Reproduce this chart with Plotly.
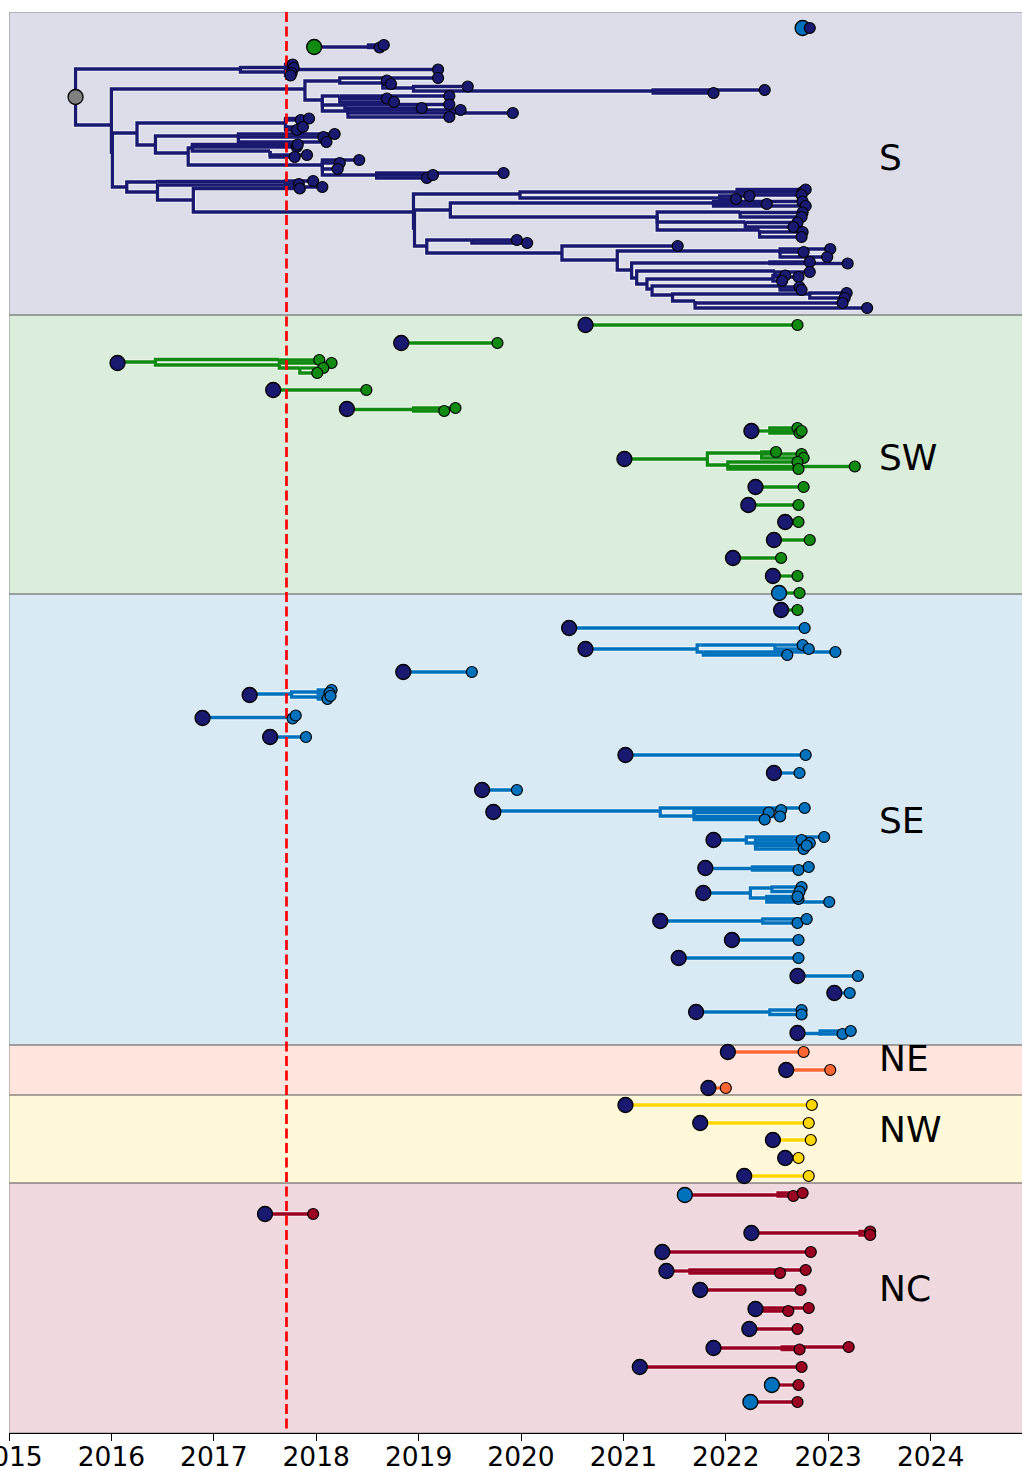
import plotly.graph_objects as go

# ---------------- data ----------------
region_names = ["S", "SW", "SE", "NE", "NW", "NC"]
region_colors = {"S": "#191970", "SW": "#118a11", "SE": "#0072bd",
                 "NE": "#ff6633", "NW": "#ffd700", "NC": "#990022",
                 "root": "#808080"}
band_fill = {"S": "rgba(25,25,112,0.15)", "SW": "rgba(0,128,0,0.14)",
             "SE": "rgba(0,114,189,0.15)", "NE": "rgba(255,102,51,0.17)",
             "NW": "rgba(255,215,0,0.15)", "NC": "rgba(153,0,34,0.15)"}
band_edges = [12, 315, 594, 1045, 1095, 1183, 1433]   # tree row positions
label_rows = [157, 457, 820, 1058, 1129, 1288]
label_date = 2023.48
cutoff_date = 2017.71
year_ticks = list(range(2015, 2025))

# (name, parent, date, row, region)
S_tree = [
    ("R", None, 2015.65, 97, "root"),
    ("A", "R", 2017.26, 69, "S"),
    ("A1", "A", 2017.70, 67.5, "S"),
    ("s1", "A1", 2017.77, 64.5, "S"), ("s2", "A1", 2017.78, 68, "S"), ("s3", "A1", 2019.19, 69.5, "S"),
    ("A2", "A", 2017.70, 72, "S"),
    ("s4", "A2", 2017.76, 73, "S"), ("s5", "A2", 2017.75, 75.5, "S"),
    ("C1", "R", 2016.00, 125, "S"),
    ("D", "C1", 2017.89, 89, "S"),
    ("D1", "D", 2018.23, 81, "S"),
    ("s6", "D1", 2019.19, 78, "S"),
    ("D11", "D1", 2018.65, 83, "S"),
    ("s7", "D11", 2018.69, 80.5, "S"), ("s8", "D11", 2018.73, 84, "S"),
    ("D111", "D11", 2018.95, 88, "S"),
    ("s9", "D111", 2019.48, 86.5, "S"),
    ("D112", "D111", 2021.29, 91, "S"),
    ("s10", "D112", 2021.88, 93, "S"), ("s11", "D112", 2022.38, 90, "S"),
    ("D2", "D", 2018.06, 100, "S"),
    ("D21", "D2", 2018.23, 96, "S"),
    ("s12", "D21", 2018.69, 98.5, "S"), ("s13", "D21", 2018.76, 102, "S"), ("s14", "D21", 2019.30, 96, "S"),
    ("D22", "D2", 2018.28, 105, "S"),
    ("s15", "D22", 2019.30, 104.5, "S"), ("s16", "D22", 2019.03, 108, "S"),
    ("D23", "D2", 2018.31, 111, "S"),
    ("s17", "D23", 2019.30, 117, "S"), ("s18", "D23", 2019.41, 110, "S"), ("s19", "D23", 2019.92, 113, "S"),
    ("C2", "C1", 2016.01, 152, "S"),
    ("H", "C2", 2016.25, 133, "S"),
    ("H1", "H", 2017.70, 123, "S"),
    ("s20", "H1", 2017.85, 120, "S"), ("s21", "H1", 2017.93, 118.5, "S"),
    ("s22", "H1", 2017.81, 130, "S"), ("s23", "H1", 2017.87, 127, "S"),
    ("H2", "H", 2016.43, 145, "S"),
    ("H21", "H2", 2017.24, 136, "S"),
    ("s24", "H21", 2018.07, 137, "S"), ("s25", "H21", 2018.18, 134, "S"), ("s26", "H21", 2018.10, 142, "S"),
    ("H22", "H2", 2016.75, 153, "S"),
    ("H221", "H22", 2016.79, 148, "S"),
    ("s27", "H221", 2017.81, 147, "S"), ("s28", "H221", 2017.82, 144.5, "S"),
    ("H2211", "H221", 2017.55, 151, "S"),
    ("s29", "H2211", 2017.79, 157, "S"), ("s30", "H2211", 2017.91, 155, "S"),
    ("H222", "H22", 2018.06, 165, "S"),
    ("s31", "H222", 2018.23, 163, "S"), ("s32", "H222", 2018.42, 160, "S"), ("s33", "H222", 2018.21, 169, "S"),
    ("H2221", "H222", 2018.59, 175, "S"),
    ("s34", "H2221", 2019.08, 178, "S"), ("s35", "H2221", 2019.14, 175, "S"), ("s36", "H2221", 2019.83, 173, "S"),
    ("I", "C2", 2016.15, 187, "S"),
    ("J", "I", 2016.45, 182, "S"),
    ("J1", "J", 2017.70, 181.5, "S"),
    ("s37", "J1", 2017.83, 184, "S"), ("s38", "J1", 2017.97, 181, "S"),
    ("K", "I", 2016.45, 192, "S"),
    ("K1", "K", 2017.70, 185, "S"),
    ("s39", "K1", 2018.06, 187, "S"),
    ("N", "K", 2016.80, 200, "S"),
    ("s40", "N", 2017.84, 188.5, "S"),
    ("O", "N", 2018.95, 212, "S"),
    ("U", "O", 2019.99, 194, "S"),
    ("U1", "U", 2022.11, 192, "S"),
    ("s41", "U1", 2022.75, 192, "S"), ("s42", "U1", 2022.78, 189.5, "S"), ("s43", "U1", 2022.74, 195, "S"),
    ("U2", "U", 2021.94, 198, "S"),
    ("s44", "U2", 2022.10, 199, "S"), ("s45", "U2", 2022.23, 196, "S"),
    ("O2", "O", 2018.96, 228, "S"),
    ("V", "O2", 2019.31, 210, "S"),
    ("V1", "V", 2021.88, 203, "S"),
    ("s46", "V1", 2022.40, 204, "S"), ("s47", "V1", 2022.75, 201.5, "S"), ("s48", "V1", 2022.78, 206, "S"),
    ("V2", "V", 2021.33, 217, "S"),
    ("V21", "V2", 2022.14, 212, "S"),
    ("s49", "V21", 2022.75, 212.5, "S"), ("s50", "V21", 2022.74, 217, "S"),
    ("V22", "V2", 2022.19, 222, "S"),
    ("s51", "V22", 2022.70, 222.5, "S"), ("s52", "V22", 2022.66, 227, "S"),
    ("V23", "V2", 2022.33, 230, "S"),
    ("s53", "V23", 2022.75, 232, "S"), ("s54", "V23", 2022.74, 237, "S"),
    ("W", "O2", 2019.08, 246, "S"),
    ("W1", "W", 2019.52, 240, "S"),
    ("s55", "W1", 2019.96, 240, "S"), ("s56", "W1", 2020.06, 243, "S"),
    ("X", "W", 2020.40, 253, "S"),
    ("s57", "X", 2021.53, 246, "S"),
    ("Y", "X", 2020.94, 260, "S"),
    ("Y1", "Y", 2022.53, 251, "S"),
    ("s58", "Y1", 2022.76, 252, "S"), ("s59", "Y1", 2023.02, 249, "S"), ("s60", "Y1", 2022.99, 257, "S"),
    ("Z", "Y", 2021.08, 270, "S"),
    ("Za", "Z", 2022.43, 263, "S"),
    ("s61", "Za", 2022.82, 262, "S"), ("s62", "Za", 2023.19, 263.5, "S"),
    ("Z1", "Z", 2021.13, 278, "S"),
    ("Z1a", "Z1", 2022.48, 271, "S"),
    ("s63", "Z1a", 2022.82, 272, "S"), ("s64", "Z1a", 2022.71, 277, "S"),
    ("Z2", "Z1", 2021.23, 284, "S"),
    ("Z2a", "Z2", 2022.46, 279, "S"),
    ("s65", "Z2a", 2022.58, 275.5, "S"), ("s66", "Z2a", 2022.55, 281, "S"),
    ("Z3", "Z2", 2021.28, 289, "S"),
    ("Z3a", "Z3", 2022.53, 286, "S"),
    ("s67", "Z3a", 2022.72, 287, "S"), ("s68", "Z3a", 2022.74, 290, "S"),
    ("Z4", "Z3", 2021.48, 295, "S"),
    ("Z4a", "Z4", 2022.82, 294, "S"),
    ("s69", "Z4a", 2023.18, 293, "S"), ("s70", "Z4a", 2023.16, 298, "S"),
    ("Z5", "Z4", 2021.70, 301, "S"),
    ("s71", "Z5", 2023.14, 303, "S"), ("s72", "Z5", 2023.38, 308, "S"),
]

S_intros = [
    ("G0", None, 2017.98, 47, "SW"),
    ("G1", "G0", 2018.51, 47, "S"),
    ("s73", "G1", 2018.62, 47.5, "S"), ("s74", "G1", 2018.66, 45, "S"),
    ("B0", None, 2022.75, 28, "SE"),
    ("s75", "B0", 2022.82, 28, "S"),
]

SW_nodes = [
    ("w1", None, 2020.63, 325, "S"), ("w1a", "w1", 2022.70, 325, "SW"),
    ("w2", None, 2018.83, 343, "S"), ("w2a", "w2", 2019.77, 343, "SW"),
    ("w3", None, 2016.06, 363, "S"),
    ("w3A", "w3", 2016.43, 362, "SW"),
    ("w3B", "w3A", 2017.64, 359.5, "SW"),
    ("w3a", "w3B", 2018.03, 360, "SW"), ("w3b", "w3B", 2018.15, 363, "SW"),
    ("w3C", "w3A", 2017.64, 365, "SW"),
    ("w3D", "w3C", 2017.84, 368, "SW"),
    ("w3c", "w3D", 2018.07, 368, "SW"), ("w3d", "w3D", 2018.01, 373, "SW"),
    ("w4", None, 2017.58, 390, "S"), ("w4a", "w4", 2018.49, 390, "SW"),
    ("w5", None, 2018.30, 409, "S"), ("w5N", "w5", 2018.95, 409.5, "SW"),
    ("w5a", "w5N", 2019.25, 411, "SW"), ("w5b", "w5N", 2019.36, 408, "SW"),
    ("w6", None, 2022.25, 431, "S"), ("w6N", "w6", 2022.43, 431, "SW"),
    ("w6a", "w6N", 2022.70, 428, "SW"), ("w6b", "w6N", 2022.72, 433, "SW"), ("w6c", "w6N", 2022.74, 431, "SW"),
    ("w7", None, 2021.01, 459, "S"), ("w7E", "w7", 2021.82, 459, "SW"),
    ("w7E1", "w7E", 2022.35, 453, "SW"),
    ("w7a", "w7E1", 2022.49, 452, "SW"), ("w7b", "w7E1", 2022.74, 454, "SW"),
    ("w7c", "w7E1", 2022.76, 458, "SW"),
    ("w7E2", "w7E", 2022.02, 465, "SW"),
    ("w7d", "w7E2", 2022.70, 462, "SW"), ("w7f", "w7E2", 2022.71, 469, "SW"),
    ("w7g", "w7E2", 2023.26, 466.5, "SW"),
    ("w8", None, 2022.29, 487, "S"), ("w8a", "w8", 2022.76, 487, "SW"),
    ("w9", None, 2022.22, 505, "S"), ("w9a", "w9", 2022.71, 505, "SW"),
    ("w10", None, 2022.58, 522, "S"), ("w10a", "w10", 2022.71, 522, "SW"),
    ("w11", None, 2022.47, 540, "S"), ("w11a", "w11", 2022.82, 540, "SW"),
    ("w12", None, 2022.07, 558, "S"), ("w12a", "w12", 2022.54, 558, "SW"),
    ("w13", None, 2022.46, 576, "S"), ("w13a", "w13", 2022.70, 576, "SW"),
    ("w14", None, 2022.52, 593, "SE"), ("w14a", "w14", 2022.72, 593, "SW"),
    ("w15", None, 2022.54, 610, "S"), ("w15a", "w15", 2022.70, 610, "SW"),
]

SE_nodes = [
    ("e1", None, 2020.47, 628, "S"), ("e1a", "e1", 2022.77, 628, "SE"),
    ("e2", None, 2020.63, 649, "S"), ("e2E", "e2", 2021.72, 649, "SE"),
    ("e2F", "e2E", 2021.75, 645, "SE"), ("e2F1", "e2F", 2022.48, 645, "SE"),
    ("e2a", "e2F1", 2022.75, 645, "SE"), ("e2b", "e2F1", 2022.81, 649, "SE"),
    ("e2G", "e2E", 2021.78, 652, "SE"),
    ("e2c", "e2G", 2022.60, 655, "SE"), ("e2d", "e2G", 2023.07, 652, "SE"),
    ("e3", None, 2018.85, 672, "S"), ("e3a", "e3", 2019.52, 672, "SE"),
    ("e4", None, 2017.35, 695, "S"), ("e4N", "e4", 2017.76, 694, "SE"),
    ("e4N1", "e4N", 2018.02, 692, "SE"),
    ("e4a", "e4N1", 2018.15, 690, "SE"), ("e4b", "e4N1", 2018.13, 693, "SE"),
    ("e4N2", "e4N", 2018.02, 697, "SE"),
    ("e4c", "e4N2", 2018.11, 699, "SE"), ("e4d", "e4N2", 2018.14, 696, "SE"),
    ("e5", None, 2016.89, 718, "S"), ("e5N", "e5", 2017.74, 717.5, "SE"),
    ("e5a", "e5N", 2017.77, 718.5, "SE"), ("e5b", "e5N", 2017.80, 715.5, "SE"),
    ("e6", None, 2017.55, 737, "S"), ("e6a", "e6", 2017.90, 737, "SE"),
    ("e7", None, 2021.02, 755, "S"), ("e7a", "e7", 2022.78, 755, "SE"),
    ("e8", None, 2022.47, 773, "S"), ("e8a", "e8", 2022.72, 773, "SE"),
    ("e9", None, 2019.62, 790, "S"), ("e9a", "e9", 2019.96, 790, "SE"),
    ("e10", None, 2019.73, 812, "S"), ("e10H", "e10", 2021.36, 811, "SE"),
    ("e10a", "e10H", 2022.77, 808, "SE"),
    ("e10H2", "e10H", 2021.69, 816, "SE"),
    ("e10b", "e10H2", 2022.42, 812.5, "SE"), ("e10c", "e10H2", 2022.54, 810, "SE"),
    ("e10d", "e10H2", 2022.53, 816.5, "SE"), ("e10e", "e10H2", 2022.38, 819.5, "SE"),
    ("e11", None, 2021.88, 840, "S"), ("e11N", "e11", 2022.20, 840, "SE"),
    ("e11a", "e11N", 2022.96, 837, "SE"),
    ("e11N2", "e11N", 2022.29, 843, "SE"),
    ("e11b", "e11N2", 2022.74, 840, "SE"), ("e11c", "e11N2", 2022.82, 843, "SE"),
    ("e11d", "e11N2", 2022.76, 849, "SE"), ("e11e", "e11N2", 2022.79, 845.5, "SE"),
    ("e12", None, 2021.80, 868, "S"), ("e12N", "e12", 2022.26, 868.5, "SE"),
    ("e12a", "e12N", 2022.71, 870, "SE"), ("e12b", "e12N", 2022.81, 867, "SE"),
    ("e13", None, 2021.78, 893, "S"), ("e13N", "e13", 2022.24, 893, "SE"),
    ("e13N1", "e13N", 2022.45, 888, "SE"),
    ("e13a", "e13N1", 2022.74, 887, "SE"), ("e13b", "e13N1", 2022.72, 891.5, "SE"),
    ("e13N2", "e13N", 2022.40, 898, "SE"),
    ("e13c", "e13N2", 2022.71, 899, "SE"), ("e13d", "e13N2", 2022.70, 896.5, "SE"),
    ("e13e", "e13N2", 2023.01, 902, "SE"),
    ("e14", None, 2021.36, 921, "S"), ("e14N", "e14", 2022.36, 921, "SE"),
    ("e14a", "e14N", 2022.70, 923, "SE"), ("e14b", "e14N", 2022.79, 919, "SE"),
    ("e15", None, 2022.06, 940, "S"), ("e15a", "e15", 2022.71, 940, "SE"),
    ("e16", None, 2021.54, 958, "S"), ("e16a", "e16", 2022.71, 958, "SE"),
    ("e17", None, 2022.70, 976, "S"), ("e17a", "e17", 2023.29, 976, "SE"),
    ("e18", None, 2023.06, 993, "S"), ("e18a", "e18", 2023.21, 993, "SE"),
    ("e19", None, 2021.71, 1012, "S"), ("e19N", "e19", 2022.43, 1012, "SE"),
    ("e19a", "e19N", 2022.74, 1010, "SE"), ("e19b", "e19N", 2022.74, 1014.5, "SE"),
    ("e20", None, 2022.70, 1033, "S"), ("e20N", "e20", 2022.92, 1033.5, "SE"),
    ("e20a", "e20N", 2023.14, 1034, "SE"), ("e20b", "e20N", 2023.22, 1031, "SE"),
]

NE_nodes = [
    ("n1", None, 2022.02, 1052, "S"), ("n1a", "n1", 2022.76, 1052, "NE"),
    ("n2", None, 2022.59, 1070, "S"), ("n2a", "n2", 2023.02, 1070, "NE"),
    ("n3", None, 2021.83, 1088, "S"), ("n3a", "n3", 2022.00, 1088, "NE"),
]

NW_nodes = [
    ("v1", None, 2021.02, 1105, "S"), ("v1a", "v1", 2022.84, 1105, "NW"),
    ("v2", None, 2021.75, 1123, "S"), ("v2a", "v2", 2022.81, 1123, "NW"),
    ("v3", None, 2022.46, 1140, "S"), ("v3a", "v3", 2022.83, 1140, "NW"),
    ("v4", None, 2022.58, 1158, "S"), ("v4a", "v4", 2022.71, 1158, "NW"),
    ("v5", None, 2022.18, 1176, "S"), ("v5a", "v5", 2022.81, 1176, "NW"),
]

NC_nodes = [
    ("c1", None, 2021.60, 1195, "SE"), ("c1N", "c1", 2022.51, 1195, "NC"),
    ("c1a", "c1N", 2022.66, 1196, "NC"), ("c1b", "c1N", 2022.75, 1193, "NC"),
    ("c2", None, 2017.50, 1214, "S"), ("c2a", "c2", 2017.97, 1214, "NC"),
    ("c3", None, 2022.25, 1233, "S"), ("c3N", "c3", 2023.31, 1233, "NC"),
    ("c3a", "c3N", 2023.41, 1231.5, "NC"), ("c3b", "c3N", 2023.41, 1235, "NC"),
    ("c4", None, 2021.38, 1252, "S"), ("c4a", "c4", 2022.83, 1252, "NC"),
    ("c5", None, 2021.42, 1271, "S"), ("c5N", "c5", 2021.65, 1271, "NC"),
    ("c5a", "c5N", 2022.53, 1273, "NC"), ("c5b", "c5N", 2022.78, 1270, "NC"),
    ("c6", None, 2021.75, 1290, "S"), ("c6a", "c6", 2022.73, 1290, "NC"),
    ("c7", None, 2022.29, 1309, "S"), ("c7N", "c7", 2022.33, 1309.5, "NC"),
    ("c7a", "c7N", 2022.61, 1311, "NC"), ("c7b", "c7N", 2022.81, 1308, "NC"),
    ("c8", None, 2022.23, 1329, "S"), ("c8a", "c8", 2022.70, 1329, "NC"),
    ("c9", None, 2021.88, 1348, "S"), ("c9N", "c9", 2022.55, 1348, "NC"),
    ("c9a", "c9N", 2022.72, 1349.5, "NC"), ("c9b", "c9N", 2023.20, 1347, "NC"),
    ("c10", None, 2021.16, 1367, "S"), ("c10a", "c10", 2022.74, 1367, "NC"),
    ("c11", None, 2022.45, 1385, "SE"), ("c11a", "c11", 2022.71, 1385, "NC"),
    ("c12", None, 2022.24, 1402, "SE"), ("c12a", "c12", 2022.70, 1402, "NC"),
]

# ---------------- build ----------------
nodes = {}
for group in [S_tree, S_intros, SW_nodes, SE_nodes, NE_nodes, NW_nodes, NC_nodes]:
    for name, parent, date, row, region in group:
        nodes[name] = dict(parent=parent, date=date, row=row, region=region)

n_children = {k: 0 for k in nodes}
for k, n in nodes.items():
    if n["parent"] is not None:
        n_children[n["parent"]] += 1

segments = {r: ([], []) for r in region_colors}
for k, n in nodes.items():
    p = n["parent"]
    if p is None:
        continue
    pn = nodes[p]
    xs, ys = segments[n["region"]]
    xs += [pn["date"], pn["date"], n["date"], None]
    ys += [pn["row"], n["row"], n["row"], None]

fig = go.Figure()

# halo under branches
for r, (xs, ys) in segments.items():
    if xs:
        fig.add_trace(go.Scatter(x=xs, y=ys, mode="lines",
                                 line=dict(color="rgba(255,255,255,0.5)", width=5.5),
                                 hoverinfo="skip", showlegend=False))
for r, (xs, ys) in segments.items():
    if xs:
        fig.add_trace(go.Scatter(x=xs, y=ys, mode="lines",
                                 line=dict(color=region_colors[r], width=3.3),
                                 hoverinfo="skip", showlegend=False))

# cutoff line
fig.add_trace(go.Scatter(x=[cutoff_date, cutoff_date], y=[band_edges[0], band_edges[-1]],
                         mode="lines", line=dict(color="#ff0000", width=2.7, dash="10px,4.5px"),
                         hoverinfo="skip", showlegend=False))

# ancestral (introduction) nodes
big = [k for k, n in nodes.items() if n["parent"] is None]
fig.add_trace(go.Scatter(
    x=[nodes[k]["date"] for k in big], y=[nodes[k]["row"] for k in big], mode="markers",
    marker=dict(size=15, color=[region_colors[nodes[k]["region"]] for k in big],
                line=dict(color="black", width=1.3)),
    hoverinfo="skip", showlegend=False))

# tips
tips = [k for k in nodes if n_children[k] == 0]
fig.add_trace(go.Scatter(
    x=[nodes[k]["date"] for k in tips], y=[nodes[k]["row"] for k in tips], mode="markers",
    marker=dict(size=11, color=[region_colors[nodes[k]["region"]] for k in tips],
                line=dict(color="black", width=1.2)),
    hoverinfo="skip", showlegend=False))

# region bands
shapes = []
for i, r in enumerate(region_names):
    shapes.append(dict(type="rect", xref="x", yref="y", x0=2015, x1=2026,
                       y0=band_edges[i], y1=band_edges[i + 1],
                       fillcolor=band_fill[r], line=dict(color="rgba(120,120,120,0.55)", width=1.5),
                       layer="below"))

annotations = []
for r, yy in zip(region_names, label_rows):
    annotations.append(dict(x=label_date, y=yy, xref="x", yref="y", text=r, showarrow=False,
                            xanchor="left", yanchor="middle",
                            font=dict(family="DejaVu Sans", size=36, color="black")))

fig.update_layout(
    width=1022, height=1470,
    margin=dict(l=9, r=0, t=12, b=37, autoexpand=False),
    plot_bgcolor="white", paper_bgcolor="white",
    shapes=shapes, annotations=annotations,
    xaxis=dict(range=[2015, 2015 + 1013 / 102.4], tickvals=year_ticks,
               ticktext=[str(t) for t in year_ticks],
               ticks="outside", ticklen=7, tickwidth=1.3, tickcolor="black",
               ticklabelstandoff=-7, ticklabeloverflow="allow",
               showline=True, linecolor="black", linewidth=1.3,
               showgrid=False, zeroline=False, automargin=False,
               tickfont=dict(family="DejaVu Sans", size=26.5, color="black")),
    yaxis=dict(range=[band_edges[-1], band_edges[0]], visible=False,
               showgrid=False, zeroline=False, automargin=False),
)

fig.write_html("out.html", config={"displayModeBar": False},
               post_script="document.body.style.margin='0';document.body.style.overflow='hidden';")
